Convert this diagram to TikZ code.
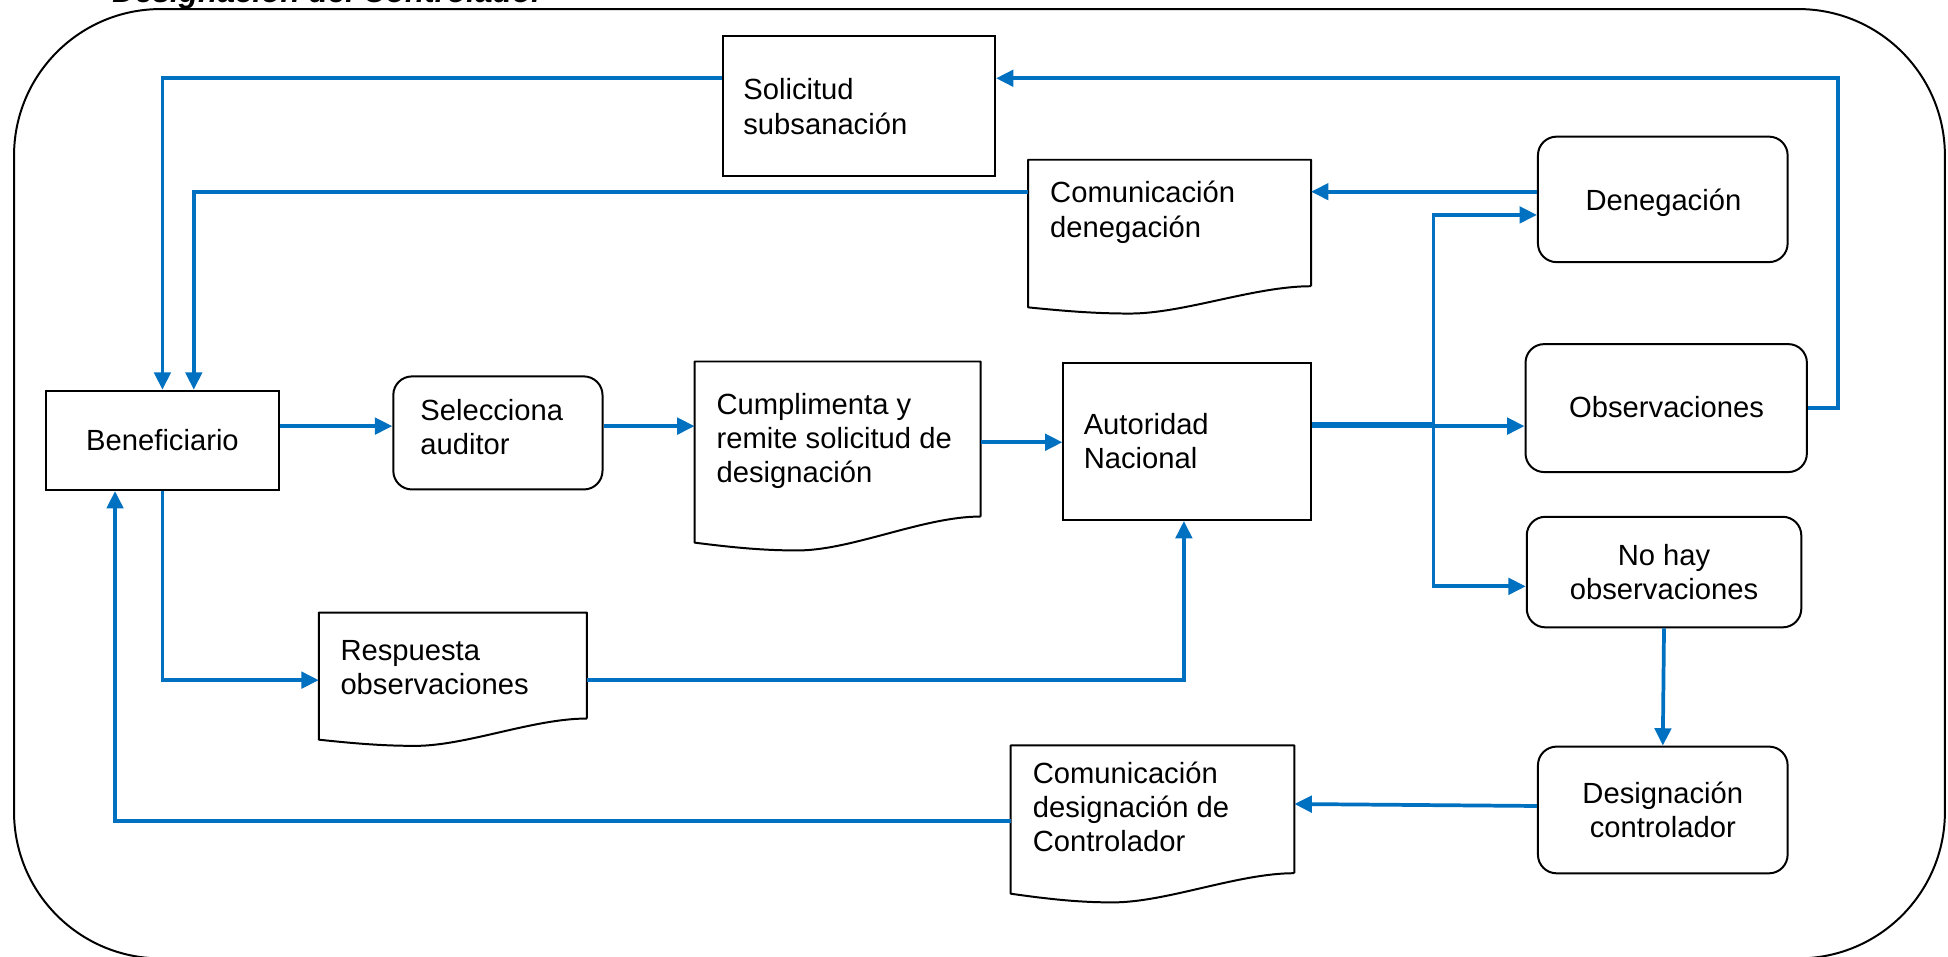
\documentclass[tikz,border=0pt]{standalone}
\usepackage{fontspec}
\setmainfont{Liberation Sans}
\usetikzlibrary{arrows.meta,fit,calc}
\definecolor{flowblue}{HTML}{0070C0}
\newcommand\firststrut{\rule{0pt}{10pt}}
\newcommand\docoutline[3]{%
  \draw[docline] (#1.south east) -- (#1.north east) -- (#1.north west) -- ($(#1.south west)+(0,#2)$)
   .. controls ($(#1.south west)!0.15!(#1.south east)+(0,{#2+0.7*(#3-#2)})$) and ($(#1.south west)!0.25!(#1.south east)+(0,#3)$) .. ($(#1.south west)!0.36!(#1.south east)+(0,#3)$)
   .. controls ($(#1.south west)!0.55!(#1.south east)+(0,#3)$) and ($(#1.south west)!0.8!(#1.south east)$) .. (#1.south east);}
\tikzset{
  boxs/.style={draw, line width=0.8pt, inner sep=0pt},
  rbox/.style={boxs, rounded corners=7.5pt},
  docn/.style={inner sep=0pt},
  docline/.style={line width=0.8pt, line join=round},
  conn/.style={draw=flowblue, line width=1.5pt},
  arr/.style={conn, -{Triangle[length=7pt,width=6.6pt]}},
  lbl/.style={inner sep=0pt, anchor=north west, align=left, font=\fontsize{11.75}{13.75}\selectfont},
  clbl/.style={lbl, anchor=north, align=center},
  frame/.style={draw, line width=0.8pt, rounded corners=59pt}
}
\begin{document}
\begin{tikzpicture}[x=0.5pt,y=-0.5pt]
\useasboundingbox (0,0) rectangle (1568.1,770.3);
\draw[frame] (11.3,7.3) rectangle (1565.6,771.5);
\node[anchor=base west, inner sep=0pt, font=\fontsize{12.7}{15}\selectfont\bfseries\itshape] (title) at (90,2.4) {Designación del Controlador};

% shapes
\node[boxs, fit={(37,314.5) (224.5,394.5)}] (ben) {};
\node[rbox, fit={(316.6,303) (485,394)}] (sel) {};
\node[docn, fit={(559.5,291.4) (788.9,415.4)}] (cum) {};
\node[boxs, fit={(856,292) (1055,418.6)}] (aut) {};
\node[boxs, fit={(582,29) (801,141.7)}] (sol) {};
\node[docn, fit={(828,129) (1055,230)}] (comden) {};
\node[rbox, fit={(1238,110) (1439,211)}] (den) {};
\node[rbox, fit={(1228,277) (1454.5,380)}] (obs) {};
\node[rbox, fit={(1229,416) (1450,505)}] (nohay) {};
\node[rbox, fit={(1238,601) (1439,703)}] (desig) {};
\node[docn, fit={(814,600.5) (1041.6,702.5)}] (comdesig) {};
\node[docn, fit={(257,493.5) (472,578)}] (resp) {};
\docoutline{cum}{21}{27.3}
\docoutline{comden}{17}{22}
\docoutline{comdesig}{16.5}{23.5}
\docoutline{resp}{17}{22}

% texts
\node[clbl] (tben) at (130.8,342) {\firststrut Beneficiario};
\node[lbl] (tsel) at (338,318) {\firststrut Selecciona\\auditor};
\node[lbl] (tcum) at (576.4,313) {\firststrut Cumplimenta y\\remite solicitud de\\designación};
\node[lbl] (taut) at (872,329) {\firststrut Autoridad\\Nacional};
\node[lbl] (tsol) at (598,60) {\firststrut Solicitud\\subsanación};
\node[lbl] (tcomden) at (845,143) {\firststrut Comunicación\\denegación};
\node[clbl] (tden) at (1339,149) {\firststrut Denegación};
\node[clbl] (tobs) at (1341.5,316) {\firststrut Observaciones};
\node[clbl] (tnohay) at (1339.5,435) {\firststrut No hay\\observaciones};
\node[clbl] (tdesig) at (1338.5,626) {\firststrut Designación\\controlador};
\node[lbl] (tcomdesig) at (831,610) {\firststrut Comunicación\\designación de\\Controlador};
\node[lbl] (tresp) at (273.7,511) {\firststrut Respuesta\\observaciones};

% helper coordinates
\coordinate (y63) at (0,63);
\coordinate (y154) at (0,154.3);
\coordinate (y173) at (0,173);
\coordinate (y341) at (0,341.3);
\coordinate (y343) at (0,343);
\coordinate (y356) at (0,356);
\coordinate (y472) at (0,472);
\coordinate (y547) at (0,547.5);
\coordinate (y647) at (0,647.2);
\coordinate (y649) at (0,648.8);
\coordinate (y661) at (0,661);
\coordinate (x92) at (92.6,0);
\coordinate (x156) at (156,0);
\coordinate (x953) at (953,0);
\coordinate (xr) at (1479.5,0);
\coordinate (br) at (1154,341.3);

% connectors
\draw[arr] (obs.east) -| (xr |- y63) -- (sol.east |- y63);
\draw[arr] (sol.west |- y63) -| (ben.north);
\draw[arr] (den.west |- y154) -- (comden.east |- y154);
\draw[arr] (comden.west |- y154) -| (ben.north -| x156);
\draw[arr] (ben.east |- y343) -- (sel.west |- y343);
\draw[arr] (sel.east |- y343) -- (cum.west |- y343);
\draw[arr] (cum.east |- y356) -- (aut.west |- y356);
\draw[arr] (aut.east |- y343) -- (obs.west |- y343);
\draw[conn] (aut.east |- y341) -- (br);
\draw[arr] (br) |- (den.west |- y173);
\draw[arr] (br) |- (nohay.west |- y472);
\draw[arr] (ben.south) |- (resp.west |- y547);
\draw[arr] (resp.east |- y547) -| (aut.south -| x953);
\draw[arr] (nohay.south) -- (desig.north);
\draw[arr] (desig.west |- y649) -- (comdesig.east |- y647);
\draw[arr] (comdesig.west |- y661) -| (ben.south -| x92);
\end{tikzpicture}
\end{document}
